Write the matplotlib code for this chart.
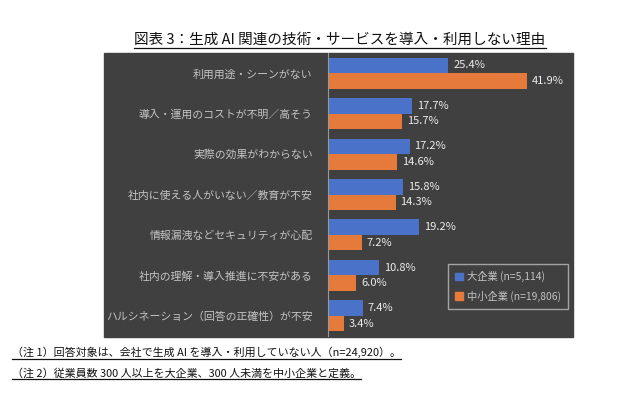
import matplotlib
matplotlib.use("Agg")
import matplotlib.pyplot as plt
from matplotlib.patches import Rectangle, Patch
from matplotlib.lines import Line2D
import numpy as np

plt.rcParams["font.family"] = ["Noto Sans CJK JP", "DejaVu Sans"]

# ---- data ----
CATS = ["利用用途・シーンがない",
        "導入・運用のコストが不明／高そう",
        "実際の効果がわからない",
        "社内に使える人がいない／教育が不安",
        "情報漏洩などセキュリティが心配",
        "社内の理解・導入推進に不安がある",
        "ハルシネーション（回答の正確性）が不安"]
LARGE = [25.4, 17.7, 17.2, 15.8, 19.2, 10.8, 7.4]
SME = [41.9, 15.7, 14.6, 14.3, 7.2, 6.0, 3.4]
SERIES = ["大企業 (n=5,114)", "中小企業 (n=19,806)"]
TITLE = "図表 3：生成 AI 関連の技術・サービスを導入・利用しない理由"
NOTES = ["（注 1）回答対象は、会社で生成 AI を導入・利用していない人（n=24,920）。",
         "（注 2）従業員数 300 人以上を大企業、300 人未満を中小企業と定義。"]

BLUE = "#4a72c8"; ORANGE = "#e57a3a"; BG = "#404040"
LBL = "#c4c4c4"; VAL = "#ececec"

W, H = 621, 393
fig = plt.figure(figsize=(W / 100, H / 100), dpi=100)
fig.patch.set_facecolor("white")

def fx(px): return px / W
def fy(py): return 1 - py / H

# dark panel behind the chart
fig.patches.append(Rectangle((fx(104), fy(337)), fx(573) - fx(104), fy(53) - fy(337),
                             transform=fig.transFigure, color=BG, zorder=-5))

ax = fig.add_axes([fx(328), fy(336), fx(565) - fx(328), fy(53) - fy(336)])
ax.set_zorder(2)
ax.set_facecolor("none")
y = np.arange(len(CATS))
h = 0.385
ax.barh(y - h / 2, LARGE, height=h, color=BLUE, label=SERIES[0])
ax.barh(y + h / 2, SME, height=h, color=ORANGE, label=SERIES[1])
ax.set_xlim(0, 50)
ax.set_ylim(len(CATS) - 0.5, -0.5)

for i in range(len(CATS)):
    ax.text(LARGE[i] + 1.0, y[i] - h / 2, f"{LARGE[i]:.1f}%", va="center", ha="left",
            fontsize=8, color=VAL)
    ax.text(SME[i] + 1.0, y[i] + h / 2, f"{SME[i]:.1f}%", va="center", ha="left",
            fontsize=8, color=VAL)

ax.set_yticks(y)
ax.set_yticklabels(CATS, fontsize=7.8, color=LBL)
ax.tick_params(axis="y", length=0, pad=11)
ax.set_xticks([])
for s in ("top", "right", "bottom"):
    ax.spines[s].set_visible(False)
ax.spines["left"].set_color("#9a9a9a")
ax.spines["left"].set_linewidth(0.8)

handles = [Patch(color=BLUE, label=SERIES[0]), Patch(color=ORANGE, label=SERIES[1])]
leg = ax.legend(handles=handles, loc="lower left", bbox_to_anchor=(fx(443), fy(314)),
                bbox_transform=fig.transFigure, fontsize=7.4, frameon=True, fancybox=False,
                handlelength=0.7, handleheight=0.7, handletextpad=0.4,
                labelspacing=0.8, borderpad=0.7, labelcolor=LBL)
leg.get_frame().set_facecolor(BG)
leg.get_frame().set_edgecolor("#bdbdbd")
leg.get_frame().set_linewidth(1.0)

# title and notes, underlined
t = fig.text(fx(340), fy(40), TITLE, ha="center", va="center", fontsize=10.5, color="#111")
n1 = fig.text(fx(12), fy(352), NOTES[0], ha="left", va="center", fontsize=7.9, color="#111")
n2 = fig.text(fx(12), fy(373), NOTES[1], ha="left", va="center", fontsize=7.9, color="#111")

fig.canvas.draw()
r = fig.canvas.get_renderer()
for txt in (t, n1, n2):
    bb = txt.get_window_extent(r)
    yy = (bb.y0 - 1) / fig.bbox.height
    fig.add_artist(Line2D([bb.x0 / fig.bbox.width, bb.x1 / fig.bbox.width], [yy, yy],
                          transform=fig.transFigure, color="#111", lw=0.9))

fig.savefig("out.png", dpi=100)
